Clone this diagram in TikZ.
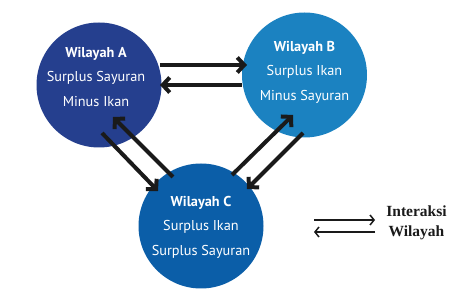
\documentclass[tikz,border=0pt]{standalone}
\usepackage{fontspec}
\setmainfont{PT Sans}
\newfontfamily\legendfont{Liberation Serif}
\usetikzlibrary{arrows.meta,calc}
\definecolor{colA}{HTML}{253F8E}
\definecolor{colB}{HTML}{1B82C1}
\definecolor{colC}{HTML}{0B5EA8}
\definecolor{arr}{HTML}{1A1A1A}
\begin{document}
\begin{tikzpicture}[x=1pt,y=1pt,
  region/.style={circle,minimum size=125pt,inner sep=0pt},
  rtext/.style={text=white,align=center,font=\fontsize{14.3}{24.5}\selectfont},
  bigarrow/.style={draw=arr,line width=4pt,line join=miter,-{Straight Barb[length=7pt,width=15pt]}},
  legarrow/.style={draw=arr,line width=1.5pt,-{Straight Barb[length=4pt,width=10pt]}},
  legtext/.style={align=center,text=arr,font=\legendfont\bfseries\fontsize{15.5}{20}\selectfont}]
\useasboundingbox (0,0) rectangle (466,302);
\node[region,fill=colA] (A) at (99,217) {};
\node[region,fill=colB] (B) at (304.5,227) {};
\node[region,fill=colC] (C) at (201,76) {};
\node[rtext] (At) at ($(A)+(-3,8)$) {\textbf{Wilayah A}\\Surplus Sayuran\\Minus Ikan};
\node[rtext] (Bt) at ($(B)+(0,3)$) {\textbf{Wilayah B}\\Surplus Ikan\\Minus Sayuran};
\node[rtext] (Ct) at ($(C)+(0,-1)$) {\textbf{Wilayah C}\\Surplus Ikan\\Surplus Sayuran};
% A <-> B
\draw[bigarrow] ($(A)+(61,20)$) -- ($(B)+(-57.5,10)$);
\draw[bigarrow] ($(B)+(-62.5,-10)$) -- ($(A)+(61,0)$);
% A <-> C
\draw[bigarrow] ($(A)+(3,-48)$) -- ($(C)+(-43,35)$);
\draw[bigarrow] ($(C)+(-28,49)$) -- ($(A)+(14,-32)$);
% C <-> B
\draw[bigarrow] ($(C)+(31,51)$) -- ($(B)+(-11.5,-40)$);
\draw[bigarrow] ($(B)+(-1.5,-58)$) -- ($(C)+(46,37)$);
% legend
\coordinate (L1) at (314,82);
\coordinate (L2) at (375,82);
\coordinate (L3) at (375,70);
\coordinate (L4) at (314,70);
\draw[legarrow] (L1) -- (L2);
\draw[legarrow] (L3) -- (L4);
\node[legtext] (leg) at (416.5,79) {Interaksi\\Wilayah};
\end{tikzpicture}
\end{document}
